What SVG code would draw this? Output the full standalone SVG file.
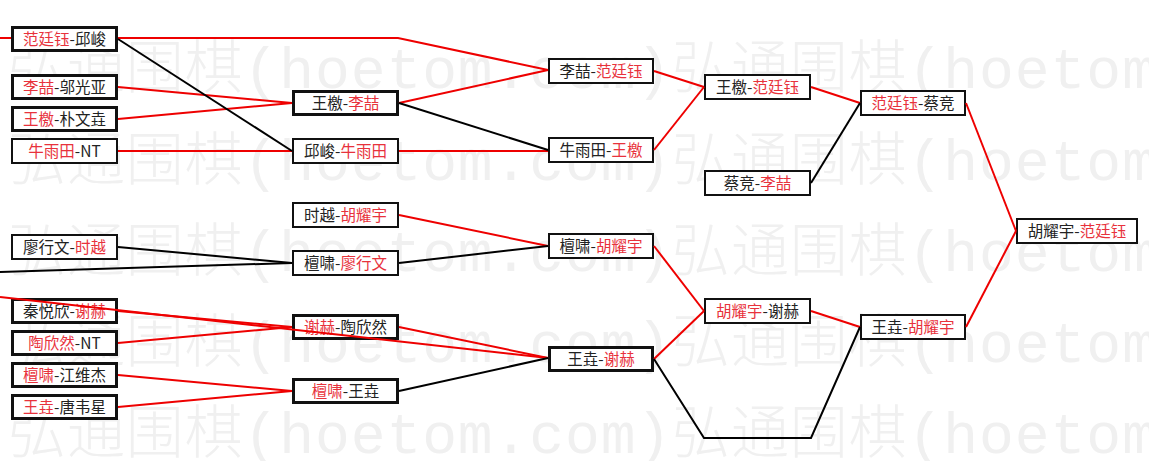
<svg xmlns="http://www.w3.org/2000/svg" width="1149" height="461" viewBox="0 0 1149 461">
<style>
.wm{font-family:"Liberation Mono","Noto Sans CJK SC",monospace;font-size:58px;font-weight:300;fill:#f0f0f0;letter-spacing:0.9px}
.box{fill:#ffffff;stroke:#111111;stroke-width:2}
.thick{stroke-width:3}
.t{font-family:"Noto Sans CJK SC",sans-serif;font-size:15.5px;fill:#222222;text-anchor:middle}
.r{fill:#e8323c}
.cr{fill:none;stroke:#ee0000;stroke-width:2}
.cb{fill:none;stroke:#000000;stroke-width:2}
</style>
<rect x="0" y="0" width="1149" height="461" fill="#ffffff"/>
<g id="watermark">
<text class="wm" x="8" y="88">弘通围棋(hoetom.com)弘通围棋(hoetom.com)</text>
<text class="wm" x="8" y="180">弘通围棋(hoetom.com)弘通围棋(hoetom.com)</text>
<text class="wm" x="8" y="271">弘通围棋(hoetom.com)弘通围棋(hoetom.com)</text>
<text class="wm" x="8" y="362">弘通围棋(hoetom.com)弘通围棋(hoetom.com)</text>
<text class="wm" x="8" y="453">弘通围棋(hoetom.com)弘通围棋(hoetom.com)</text>
</g>
<g id="nodes">
<g id="n-r1-1"><rect class="box thick" x="12.5" y="27.5" width="104" height="23"/><text class="t" x="64.5" y="44.5"><tspan class="r">范廷钰</tspan>-邱峻</text></g>
<g id="n-r1-2"><rect class="box thick" x="12.5" y="75.5" width="104" height="23"/><text class="t" x="64.5" y="92.5"><tspan class="r">李喆</tspan>-邬光亚</text></g>
<g id="n-r1-3"><rect class="box thick" x="12.5" y="107.5" width="104" height="23"/><text class="t" x="64.5" y="124.5"><tspan class="r">王檄</tspan>-朴文垚</text></g>
<g id="n-r1-4"><rect class="box" x="12" y="139" width="105" height="24"/><text class="t" x="64.5" y="156.5"><tspan class="r">牛雨田</tspan>-NT</text></g>
<g id="n-r1-5"><rect class="box" x="12" y="235" width="105" height="24"/><text class="t" x="64.5" y="252.5">廖行文-<tspan class="r">时越</tspan></text></g>
<g id="n-r1-6"><rect class="box thick" x="12.5" y="299.5" width="104" height="23"/><text class="t" x="64.5" y="316.5">秦悦欣-<tspan class="r">谢赫</tspan></text></g>
<g id="n-r1-7"><rect class="box thick" x="12.5" y="331.5" width="104" height="23"/><text class="t" x="64.5" y="348.5"><tspan class="r">陶欣然</tspan>-NT</text></g>
<g id="n-r1-8"><rect class="box thick" x="12.5" y="363.5" width="104" height="23"/><text class="t" x="64.5" y="380.5"><tspan class="r">檀啸</tspan>-江维杰</text></g>
<g id="n-r1-9"><rect class="box thick" x="12.5" y="395.5" width="104" height="23"/><text class="t" x="64.5" y="412.5"><tspan class="r">王垚</tspan>-唐韦星</text></g>

<g id="n-r2-1"><rect class="box thick" x="293.5" y="91.5" width="104" height="23"/><text class="t" x="345.5" y="108.5">王檄-<tspan class="r">李喆</tspan></text></g>
<g id="n-r2-2"><rect class="box" x="293" y="139" width="105" height="24"/><text class="t" x="345.5" y="156.5">邱峻-<tspan class="r">牛雨田</tspan></text></g>
<g id="n-r2-3"><rect class="box" x="293" y="203" width="105" height="24"/><text class="t" x="345.5" y="220.5">时越-<tspan class="r">胡耀宇</tspan></text></g>
<g id="n-r2-4"><rect class="box" x="293" y="251" width="105" height="24"/><text class="t" x="345.5" y="268.5">檀啸-<tspan class="r">廖行文</tspan></text></g>
<g id="n-r2-5"><rect class="box thick" x="293.5" y="315.5" width="104" height="23"/><text class="t" x="345.5" y="332.5"><tspan class="r">谢赫</tspan>-陶欣然</text></g>
<g id="n-r2-6"><rect class="box thick" x="293.5" y="379.5" width="104" height="23"/><text class="t" x="345.5" y="396.5"><tspan class="r">檀啸</tspan>-王垚</text></g>

<g id="n-r3-1"><rect class="box" x="549" y="59" width="104" height="24"/><text class="t" x="601" y="76.5">李喆-<tspan class="r">范廷钰</tspan></text></g>
<g id="n-r3-2"><rect class="box" x="549" y="138" width="104" height="24"/><text class="t" x="601" y="155.5">牛雨田-<tspan class="r">王檄</tspan></text></g>
<g id="n-r3-3"><rect class="box" x="549" y="234" width="104" height="24"/><text class="t" x="601" y="251.5">檀啸-<tspan class="r">胡耀宇</tspan></text></g>
<g id="n-r3-4"><rect class="box thick" x="549.5" y="347.5" width="103" height="23"/><text class="t" x="601" y="364.5">王垚-<tspan class="r">谢赫</tspan></text></g>

<g id="n-r4-1"><rect class="box" x="705" y="75" width="105" height="24"/><text class="t" x="757.5" y="92.5">王檄-<tspan class="r">范廷钰</tspan></text></g>
<g id="n-r4-2"><rect class="box" x="705" y="171" width="105" height="24"/><text class="t" x="757.5" y="188.5">蔡竞-<tspan class="r">李喆</tspan></text></g>
<g id="n-r4-3"><rect class="box" x="705" y="299" width="105" height="24"/><text class="t" x="757.5" y="316.5"><tspan class="r">胡耀宇</tspan>-谢赫</text></g>

<g id="n-r5-1"><rect class="box" x="861" y="91" width="104" height="24"/><text class="t" x="913" y="108.5"><tspan class="r">范廷钰</tspan>-蔡竞</text></g>
<g id="n-r5-2"><rect class="box" x="861" y="315" width="104" height="24"/><text class="t" x="913" y="332.5">王垚-<tspan class="r">胡耀宇</tspan></text></g>

<g id="n-final"><rect class="box" x="1017" y="219" width="120" height="24"/><text class="t" x="1077" y="236.5">胡耀宇-<tspan class="r">范廷钰</tspan></text></g>
</g>
<g id="connectors">
<path class="cr" d="M0,38 H11"/>
<path class="cr" d="M118,38 H398 L548,70"/>
<path class="cr" d="M118,87 L292,103"/>
<path class="cr" d="M118,119 L292,103"/>
<path class="cr" d="M118,151 H292"/>
<path class="cr" d="M399,103 L548,70"/>
<path class="cr" d="M399,151 H548"/>
<path class="cr" d="M654,71 L704,87"/>
<path class="cr" d="M654,150 L704,87"/>
<path class="cr" d="M811,87 L860,103"/>
<path class="cr" d="M966,103 L1016,231"/>
<path class="cr" d="M0,297 L548,358"/>
<path class="cr" d="M118,311 L292,327"/>
<path class="cr" d="M118,343 L292,327"/>
<path class="cr" d="M118,375 L292,391"/>
<path class="cr" d="M118,407 L292,391"/>
<path class="cr" d="M399,215 L548,246"/>
<path class="cr" d="M399,327 L548,358"/>
<path class="cr" d="M654,246 L704,311"/>
<path class="cr" d="M654,359 L704,311"/>
<path class="cr" d="M811,311 L860,327"/>
<path class="cr" d="M966,327 L1016,231"/>
<path class="cb" d="M118,39 L292,151"/>
<path class="cb" d="M399,103 L548,150"/>
<path class="cb" d="M811,183 L860,103"/>
<path class="cb" d="M118,247 L292,263"/>
<path class="cb" d="M0,272 L292,263"/>
<path class="cb" d="M399,263 L548,246"/>
<path class="cb" d="M399,391 L548,358"/>
<path class="cb" d="M654,359 L704,438 H811 L860,327"/>
</g>
</svg>
